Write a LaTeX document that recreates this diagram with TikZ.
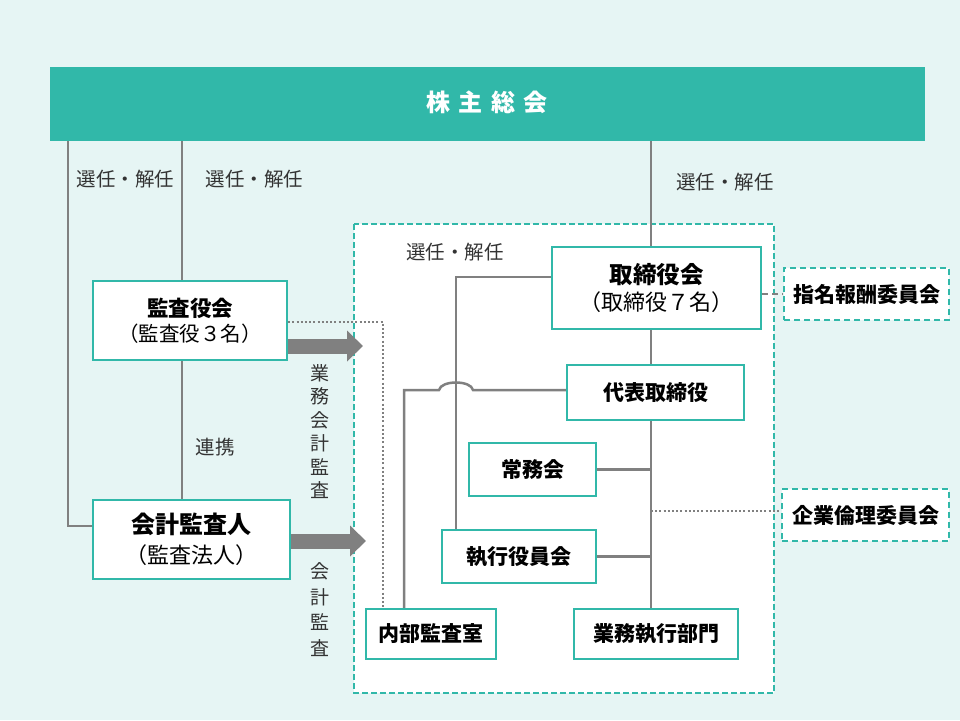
\documentclass[tikz,border=0pt]{standalone}
\usepackage{fontspec}
\setmainfont{Noto Sans CJK JP}
\usetikzlibrary{arrows.meta}
\definecolor{kteal}{HTML}{31B8A9}
\definecolor{kbg}{HTML}{E6F5F4}
\definecolor{kgray}{HTML}{808080}
\definecolor{ktext}{HTML}{333333}
\begin{document}
\begin{tikzpicture}[x=1pt,y=-1pt,
  conn/.style={draw=kgray,line width=2.5pt},
  dotline/.style={draw=kgray,line width=2pt,dash pattern=on 2pt off 2.2pt},
  dashline/.style={draw=kgray,line width=2pt,dash pattern=on 6pt off 4pt},
  bigarrow/.style={draw=kgray,line width=15pt,-{Triangle[length=16pt,width=30pt]}},
  box/.style={draw=kteal,line width=2.5pt,fill=white,inner sep=0pt,align=center,text=black},
  dbox/.style={box,dash pattern=on 6pt off 4pt},
  ttl/.style={font=\bfseries\fontsize{21}{27}\selectfont},
  lbl/.style={text=ktext,inner sep=0pt,font=\fontsize{19.5}{24}\selectfont}]
  \useasboundingbox (0,0) rectangle (960,720);
  \fill[kbg] (0,0) rectangle (960,720);
  % 株主総会（上の帯）
  \node[fill=kteal,minimum width=875pt,minimum height=74pt,inner sep=0pt,text=white,
    font=\bfseries\fontsize{24}{28}\selectfont] (soukai) at (487.5,104) {};
  \node[text=white,inner sep=0pt,font=\bfseries\fontsize{24}{28}\selectfont] (soukaiT) at (487,102)
    {株\hspace{0.36em}主\hspace{0.36em}総\hspace{0.36em}会};
  % 取締役会まわりの点線枠
  \draw[draw=kteal,fill=white,line width=2pt,dash pattern=on 6pt off 3pt] (354,224) rectangle (774,693);
  % 左側の箱
  \node[box,minimum width=194pt,minimum height=79pt,font=\fontsize{20.5}{25}\selectfont] (kansa) at (190,320.5)
    {{\bfseries\fontsize{21.5}{25}\selectfont 監査役会}\\（監査役３名）};
  \node[box,minimum width=197pt,minimum height=79pt,font=\fontsize{22}{30}\selectfont] (kaikei) at (191.5,539.5)
    {{\bfseries\fontsize{24}{30}\selectfont 会計監査人}\\（監査法人）};
  % 枠の中の箱
  \node[box,minimum width=209pt,minimum height=82pt,font=\fontsize{22}{26.5}\selectfont] (torishimari) at (656.5,288)
    {{\bfseries\fontsize{23.5}{26.5}\selectfont 取締役会}\\（取締役７名）};
  \node[box,ttl,minimum width=177pt,minimum height=55pt] (daihyo) at (655.5,392.5) {代表取締役};
  \node[box,ttl,minimum width=127pt,minimum height=53pt] (jomu) at (532.5,469.5) {常務会};
  \node[box,ttl,minimum width=154pt,minimum height=53pt] (shikko) at (519,556.5) {執行役員会};
  \node[box,ttl,minimum width=130pt,minimum height=50pt] (naibu) at (431,634) {内部監査室};
  \node[box,ttl,minimum width=164pt,minimum height=50pt] (gyomu) at (656,634) {業務執行部門};
  % 右側の委員会
  \node[dbox,ttl,minimum width=165pt,minimum height=52pt] (shimei) at (866.5,294) {指名報酬委員会};
  \node[dbox,ttl,minimum width=167pt,minimum height=52pt] (rinri) at (865.5,515) {企業倫理委員会};
  % 株主総会から下りる線
  \coordinate (kL) at (68,141);
  \coordinate (kLb) at (68,526);
  \coordinate (kM) at (182,141);
  \coordinate (tM) at (651,141);
  \draw[conn] (kL) -- (kLb) -- (kaikei.west |- kLb);
  \draw[conn] (kM) -- (kM |- kansa.north);
  \draw[conn] (kM |- kansa.south) -- (kM |- kaikei.north);
  \draw[conn] (tM) -- (tM |- torishimari.north);
  % 取締役会から業務執行部門まで
  \draw[conn] (tM |- torishimari.south) -- (tM |- daihyo.north);
  \draw[conn] (tM |- daihyo.south) -- (tM |- gyomu.north);
  \draw[conn] (jomu.east) -- (tM |- jomu.east);
  \draw[conn] (shikko.east) -- (tM |- shikko.east);
  % 取締役会 → 執行役員会
  \coordinate (eA) at (456,277);
  \draw[conn] (torishimari.west |- eA) -- (eA) -- (eA |- shikko.north);
  % 代表取締役 → 内部監査室（交差をまたぐ）
  \coordinate (nA) at (404,390);
  \draw[conn] (daihyo.west |- nA) -- (473,390) .. controls (471,380) and (441,380) .. (439,390)
    -- (nA) -- (nA |- naibu.north);
  % 委員会への線
  \draw[dashline] (torishimari.east |- shimei.west) -- (shimei.west);
  \coordinate (rR) at (651,511);
  \draw[dotline] (rR) -- (rR -| rinri.west);
  % 監査役会 → 内部監査室（点線）
  \coordinate (dK) at (383,322);
  \draw[dotline] (kansa.east |- dK) -- (dK) -- (dK |- naibu.north);
  % 監査の太い矢印
  \coordinate (aK) at (363,346);
  \coordinate (aC) at (366,541);
  \draw[bigarrow] (kansa.east |- aK) -- (aK);
  \draw[bigarrow] (kaikei.east |- aC) -- (aC);
  % ラベル
  \node[lbl] (sen1) at (125.5,179) {選任・解任};
  \node[lbl] (sen2) at (254.5,179) {選任・解任};
  \node[lbl] (sen3) at (725,182) {選任・解任};
  \node[lbl] (sen4) at (455,252) {選任・解任};
  \node[lbl] (renkei) at (215,447) {連携};
  \node[lbl,align=center,font=\fontsize{19}{23.4}\selectfont] (gkansa) at (320,431.5) {業\\務\\会\\計\\監\\査};
  \node[lbl,align=center,font=\fontsize{19}{25.6}\selectfont] (kkansa) at (320,609.5) {会\\計\\監\\査};
\end{tikzpicture}
\end{document}
